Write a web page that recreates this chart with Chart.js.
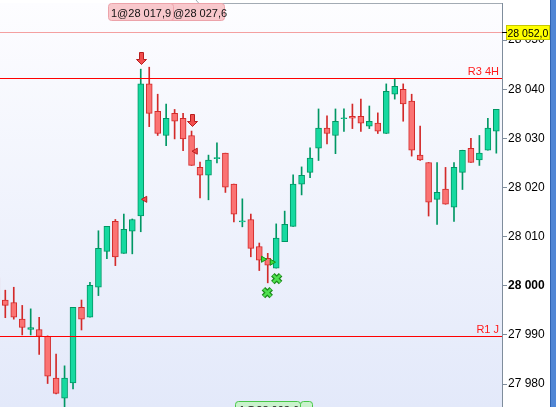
<!DOCTYPE html>
<html>
<head>
<meta charset="utf-8">
<script src="https://cdn.jsdelivr.net/npm/chart.js@4.4.0/dist/chart.umd.min.js"></script>
<style>
  html, body { margin: 0; padding: 0; background: #fff; overflow: hidden; }
</style>
</head>
<body>
<canvas id="myChart" width="556" height="407"></canvas>
<script>
// candle data (bar -1 is only partly visible at the left edge)
const bars   = [-1,0,1,2,3,4,5,6,7,8,9,10,11,12,13,14,15,16,17,18,19,20,21,22,23,24,25,26,27,28,29,30,31,32,33,34,35,36,37,38,39,40,41,42,43,44,45,46,47,48,49,50,51,52,53,54,55,56,57,58];
const opens  = [28001.6,27997.1,27996.6,27993.2,27991.1,27991.1,27989.7,27981.2,27977.1,27980.2,27995.6,27993.6,27999.7,28007.0,28013.1,28006.6,28011.1,28014.2,28041.1,28035.5,28030.6,28035.1,28034.1,28030.6,28024.1,28022.5,28026.0,28027.0,28020.7,28013.1,28013.5,28008.0,28005.6,28003.6,28009.0,28012.1,28020.7,28023.1,28028.0,28032.1,28030.6,28034.1,28034.5,28034.5,28032.5,28033.1,28031.0,28039.0,28040.0,28037.6,28026.6,28025.1,28017.6,28019.7,28016.0,28023.1,28028.0,28025.6,28027.6,28031.5];
const highs  = [28002.6,27999.1,27999.7,27996.0,27995.3,27993.6,27989.8,27986.1,27983.7,27995.6,27997.1,28000.7,28011.2,28012.1,28013.5,28014.6,28013.6,28044.1,28044.5,28039.0,28037.0,28035.9,28035.1,28031.5,28025.2,28026.6,28029.1,28027.0,28020.7,28017.7,28014.6,28008.7,28006.6,28012.6,28015.2,28022.6,28024.2,28028.1,28036.0,28034.6,28036.0,28036.0,28037.0,28038.0,28036.6,28035.2,28041.1,28042.1,28041.1,28039.0,28032.5,28025.1,28025.1,28024.1,28025.1,28027.6,28030.0,28030.6,28034.1,28035.9];
const lows   = [27996.0,27993.5,27993.2,27990.0,27990.0,27986.0,27980.1,27978.0,27975.0,27979.0,27991.0,27993.6,27998.0,28005.5,28004.1,28006.6,28006.5,28011.0,28032.4,28030.6,28028.5,28029.9,28027.5,28024.5,28017.9,28017.5,28025.0,28019.0,28013.0,28012.0,28005.9,28003.1,28000.6,28003.6,28009.0,28012.1,28018.5,28022.0,28025.5,28028.9,28026.9,28031.4,28032.0,28031.4,28032.0,28031.0,28031.0,28038.0,28033.5,28026.4,28025.5,28014.2,28012.5,28016.6,28013.1,28019.6,28025.1,28024.5,28027.6,28027.0];
const closes = [27997.1,27996.0,27993.6,27991.5,27991.5,27989.7,27981.6,27978.1,27981.2,27995.6,27993.2,28000.1,28007.6,28012.1,28005.9,28011.5,28013.5,28041.1,28035.1,28031.0,28034.1,28033.5,28029.9,28024.5,28022.5,28025.6,28026.0,28020.1,28014.6,28013.1,28007.6,28005.2,28004.2,28009.7,28012.5,28020.7,28022.5,28026.0,28032.1,28031.0,28033.5,28034.1,28034.1,28033.1,28033.5,28031.5,28039.6,28040.6,28037.0,28027.6,28025.6,28017.0,28019.0,28016.6,28024.1,28027.6,28025.1,28027.0,28032.1,28035.9];

// axis ticks and horizontal levels
const yTicks = [27980, 27990, 28000, 28010, 28020, 28030, 28040, 28050];
const levels = [
  { value: 28042.2, label: 'R3 4H', color: 'rgb(255,0,0)' },
  { value: 27989.7, label: 'R1 J',  color: 'rgb(255,0,0)' },
  { value: 28051.6, label: '',      color: 'rgb(244,160,160)' }
];
const lastPrice = '28 052,0';

// signals on the chart
const sellArrows  = [{ x: 16, y: 28046.4 }, { x: 22, y: 28033.7 }];
const redMarks    = [{ x: 16.5, y: 28017.6 }, { x: 22.47, y: 28027.4 }];
const greenMarks  = [{ x: 30.47, y: 28005.4 }, { x: 31.5, y: 28004.8 }];
const crossMarks  = [{ x: 32.06, y: 28001.45 }, { x: 30.95, y: 27998.6 }];
const topOrders   = ['1@28 017,9', '1@28 027,6'];
const bottomOrder = '1@28 003,6';

const isUp = i => closes[i] >= opens[i];
const GREEN = '#16d9a0', GREEN_LINE = '#009764', RED = '#fb7373', RED_LINE = '#d32a2a';

const bodyData = bars.map((x, i) => {
  let o = opens[i], c = closes[i];
  if (Math.abs(o - c) < 0.2) { o -= 0.1; c += 0.1; }
  return { x: x, y: [o, c] };
});
const wickData = bars.map((x, i) => ({ x: x, y: [lows[i], highs[i]] }));

const fmt = v => Math.round(v).toString().replace(/\B(?=(\d{3})+(?!\d))/g, ' ');

function roundRect(ctx, x, y, w, h, r) {
  ctx.beginPath();
  ctx.moveTo(x + r, y);
  ctx.lineTo(x + w - r, y); ctx.quadraticCurveTo(x + w, y, x + w, y + r);
  ctx.lineTo(x + w, y + h - r); ctx.quadraticCurveTo(x + w, y + h, x + w - r, y + h);
  ctx.lineTo(x + r, y + h); ctx.quadraticCurveTo(x, y + h, x, y + h - r);
  ctx.lineTo(x, y + r); ctx.quadraticCurveTo(x, y, x + r, y);
  ctx.closePath();
}

const overlay = {
  id: 'overlay',
  beforeDraw(chart) {
    const { ctx, chartArea: a } = chart;
    const g = ctx.createLinearGradient(0, a.top, 0, a.bottom);
    g.addColorStop(0, '#fdfdff');
    g.addColorStop(1, '#e3e9fa');
    ctx.save();
    ctx.fillStyle = g;
    ctx.fillRect(a.left, a.top, a.right - a.left, a.bottom - a.top);
    ctx.restore();
  },
  afterDatasetsDraw(chart) {
    const { ctx, chartArea: a, scales } = chart;
    ctx.save();
    levels.forEach(l => {
      const y = Math.round(scales.y.getPixelForValue(l.value));
      ctx.fillStyle = l.color;
      ctx.fillRect(a.left, y, a.right - a.left, 1);
      if (l.label) {
        ctx.fillStyle = '#ff1a1a';
        ctx.font = '11px "Liberation Sans", Arial, sans-serif';
        ctx.textAlign = 'right';
        ctx.textBaseline = 'alphabetic';
        ctx.fillText(l.label, a.right - 3, y - 3);
      }
    });
    // sell arrows
    sellArrows.forEach(p => {
      const x = Math.round(scales.x.getPixelForValue(p.x)) + 0.5;
      const y = Math.round(scales.y.getPixelForValue(p.y)) + 0.5;
      ctx.beginPath();
      ctx.moveTo(x - 2, y - 6); ctx.lineTo(x + 2, y - 6); ctx.lineTo(x + 2, y + 1);
      ctx.lineTo(x + 5, y + 1); ctx.lineTo(x, y + 6); ctx.lineTo(x - 5, y + 1);
      ctx.lineTo(x - 2, y + 1); ctx.closePath();
      ctx.fillStyle = '#f24d4d'; ctx.fill();
      ctx.strokeStyle = '#b81e1e'; ctx.lineWidth = 1; ctx.stroke();
    });
    ctx.restore();
  },
  afterDraw(chart) {
    const { ctx, chartArea: a, scales } = chart;
    ctx.save();
    // top border of the plot
    ctx.strokeStyle = '#a3abb4';
    ctx.lineWidth = 1;
    ctx.beginPath(); ctx.moveTo(196, 0); ctx.lineTo(199, 3.5); ctx.lineTo(a.right, 3.5); ctx.stroke();

    // order labels at the top
    ctx.font = '11px "Liberation Sans", Arial, sans-serif';
    ctx.textBaseline = 'alphabetic';
    ctx.textAlign = 'left';
    [[164, 60, topOrders[1]], [108, 65, topOrders[0]]].forEach(([x, w, t]) => {
      roundRect(ctx, x + 0.5, 3.5, w, 17, 3);
      ctx.fillStyle = '#f8c8cc'; ctx.fill();
      ctx.strokeStyle = '#eca3aa'; ctx.stroke();
      ctx.fillStyle = '#111';
      ctx.fillText(t, x + 3, 16.5);
    });

    // order label at the bottom, mostly cut off
    [[300, 12], [235, 65]].forEach(([x, w]) => {
      roundRect(ctx, x + 0.5, 401.5, w, 17, 3);
      ctx.fillStyle = '#c9f2cc'; ctx.fill();
      ctx.strokeStyle = '#48c848'; ctx.stroke();
    });
    ctx.fillStyle = '#111';
    ctx.fillText(bottomOrder, 239, 414);

    // last price tag
    const py = Math.round(scales.y.getPixelForValue(levels[2].value));
    ctx.fillStyle = '#ffff00';
    ctx.fillRect(506, py - 7, 44, 15);
    ctx.strokeStyle = '#c8c800';
    ctx.strokeRect(506.5, py - 6.5, 43, 14);
    ctx.fillStyle = '#000';
    ctx.fillRect(a.right, py, 5, 1);
    ctx.font = '10.5px "Liberation Sans", Arial, sans-serif';
    ctx.fillText(lastPrice, 507.5, py + 4.5);

    // window edge on the right
    ctx.fillStyle = '#4f86d6';
    ctx.fillRect(550, 0, 6, 407);
    ctx.fillStyle = '#2f62b0';
    ctx.fillRect(550, 0, 1, 407);
    ctx.restore();
  }
};

const ctx = document.getElementById('myChart');

var myChart = new Chart(ctx, {
  type: 'bar',
  data: {
    datasets: [
      {
        type: 'scatter', data: crossMarks, order: 0,
        pointStyle: 'crossRot', radius: 5, borderWidth: 2.5,
        borderColor: '#4fe04f', backgroundColor: '#4fe04f'
      },
      {
        type: 'scatter', data: crossMarks, order: 1,
        pointStyle: 'crossRot', radius: 5.5, borderWidth: 5,
        borderColor: '#1b8a1b', backgroundColor: '#1b8a1b'
      },
      {
        type: 'scatter', data: redMarks, order: 1,
        pointStyle: 'triangle', rotation: -90, radius: 3.5, borderWidth: 1,
        borderColor: '#b81e1e', backgroundColor: '#f24d4d'
      },
      {
        type: 'scatter', data: greenMarks, order: 1,
        pointStyle: 'triangle', rotation: 90, radius: 3.5, borderWidth: 1,
        borderColor: '#169016', backgroundColor: '#3ddc3d'
      },
      {
        label: 'body', data: bodyData, order: 2, grouped: false,
        barThickness: 6, borderWidth: 1, borderSkipped: false,
        backgroundColor: c => isUp(c.dataIndex) ? GREEN : RED,
        borderColor: c => isUp(c.dataIndex) ? GREEN_LINE : RED_LINE
      },
      {
        label: 'wick', data: wickData, order: 3, grouped: false,
        barThickness: 1, borderWidth: 0,
        backgroundColor: c => isUp(c.dataIndex) ? GREEN_LINE : RED_LINE
      }
    ]
  },
  options: {
    responsive: false,
    animation: false,
    layout: { autoPadding: false, padding: { top: 3, left: 0, right: 0, bottom: 0 } },
    plugins: { legend: { display: false }, tooltip: { enabled: false } },
    scales: {
      x: {
        type: 'linear', display: false, offset: false,
        min: -0.626, max: 58.67
      },
      y: {
        position: 'right',
        min: 27975.32, max: 28057.57,
        grid: { drawOnChartArea: false, drawTicks: true, tickLength: 5, tickColor: '#7f8d9c' },
        border: { display: true, color: '#7f8d9c' },
        ticks: {
          padding: 1,
          color: '#000',
          font: c => ({ family: '"Liberation Sans", Arial, sans-serif', size: 12,
                        weight: c.tick && c.tick.value === 28000 ? 'bold' : 'normal' }),
          callback: v => fmt(v)
        },
        afterBuildTicks: s => { s.ticks = yTicks.map(v => ({ value: v })); },
        afterFit: s => { s.width = 54; s.paddingTop = 0; s.paddingBottom = 0; }
      }
    }
  },
  plugins: [overlay]
});
</script>
</body>
</html>
